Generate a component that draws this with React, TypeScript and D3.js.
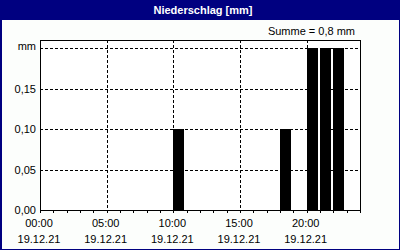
import React from "react";
import * as d3 from "d3";

const hours = [10, 18, 20, 21, 22];
const values = [0.1, 0.1, 0.2, 0.2, 0.2];
const yTicks = [0, 0.05, 0.1, 0.15];
const yTickLabels = ["0,00", "0,05", "0,10", "0,15"];
const xMajor = [0, 5, 10, 15, 20];
const xMajorLabels = ["00:00", "05:00", "10:00", "15:00", "20:00"];
const dateLabel = "19.12.21";
const title = "Niederschlag [mm]";
const sumLabel = "Summe = 0,8 mm";
const unitLabel = "mm";

export default function App() {
  const W = 400, H = 250;
  const L = 40, R = 360, T = 40, B = 210;
  const x = d3.scaleLinear().domain([0, 24]).range([L, R]);
  const y = d3.scaleLinear().domain([0, 0.2]).range([B, 48]);
  const font = "'Liberation Sans', Arial, sans-serif";
  const r = (v: number) => Math.round(v) + 0.5;
  return (
    <svg width={W} height={H} style={{ position: "absolute", left: 0, top: 0 }} fontFamily={font}>
      <rect x={0} y={0} width={W} height={H} fill="#fcfefc" />
      <rect x={0} y={0} width={W} height={20} fill="#000080" />
      <rect x={0.5} y={0.5} width={W - 1} height={H - 1} fill="none" stroke="#000080" strokeWidth={1} />
      <rect x={0} y={0} width={2} height={H} fill="#000080" />
      <text x={203} y={14} textAnchor="middle" fill="#fff" fontWeight="bold" fontSize={11}>{title}</text>
      <text x={355} y={35} textAnchor="end" fontSize={11} fill="#000">{sumLabel}</text>
      <rect x={L} y={T} width={R - L} height={B - T} fill="#fff" />
      {yTicks.slice(1).concat([0.2]).map((v) => (
        <line key={"h" + v} x1={L} x2={R} y1={r(y(v))} y2={r(y(v))} stroke="#000" strokeDasharray="3,2" />
      ))}
      {xMajor.slice(1).map((h) => (
        <line key={"v" + h} x1={r(x(h))} x2={r(x(h))} y1={T} y2={B} stroke="#000" strokeDasharray="3,2" />
      ))}
      {hours.map((h, i) => (
        <rect key={"b" + h} x={Math.round(x(h))} y={Math.round(y(values[i]))} width={Math.round(x(h + 0.8) - x(h))} height={B - Math.round(y(values[i]))} fill="#000" />
      ))}
      <rect x={L + 0.5} y={T + 0.5} width={R - L} height={B - T} fill="none" stroke="#000" />
      {d3.range(0, 25).map((h) => (
        <line key={"t" + h} x1={r(x(h))} x2={r(x(h))} y1={B} y2={B + 3} stroke="#000" />
      ))}
      {yTicks.map((v, i) => (
        <text key={"yl" + v} x={36} y={Math.round(y(v)) + 4} textAnchor="end" fontSize={11} fill="#000">{yTickLabels[i]}</text>
      ))}
      <text x={36} y={y(0.2) + 2} textAnchor="end" fontSize={11} fill="#000">{unitLabel}</text>
      {xMajor.map((h, i) => (
        <g key={"xl" + h}>
          <text x={x(h) - 1} y={227} textAnchor="middle" fontSize={11} fill="#000">{xMajorLabels[i]}</text>
          <text x={x(h) - 1} y={243} textAnchor="middle" fontSize={11} fill="#000">{dateLabel}</text>
        </g>
      ))}
    </svg>
  );
}
